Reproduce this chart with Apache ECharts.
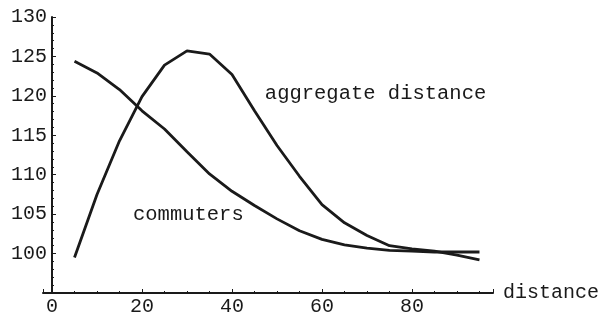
<!DOCTYPE html>
<html>
<head>
<meta charset="utf-8">
<script src="https://cdn.jsdelivr.net/npm/echarts@6/dist/echarts.min.js"></script>
<style>
  html, body { margin: 0; padding: 0; background: #fff; }
  #chart { width: 602px; height: 317px; }
</style>
</head>
<body>
<div id="chart"></div>
<script>
// distance values (x)
const distances = [5, 10, 15, 20, 25, 30, 35, 40, 45, 50, 55, 60, 65, 70, 75, 80, 85, 90, 95]
const aggregate = [99.5, 107.5, 114.3, 119.9, 123.9, 125.7, 125.3, 122.7, 118.1, 113.7, 109.8, 106.2, 103.9, 102.3, 101.0, 100.6, 100.3, 99.8, 99.2]
const commuters = [124.4, 122.9, 120.8, 118.1, 115.8, 112.9, 110.1, 107.9, 106.1, 104.4, 102.9, 101.8, 101.1, 100.7, 100.4, 100.3, 100.2, 100.2, 100.2]
const xTickLabels = [0, 20, 40, 60, 80]
const yTickLabels = [100, 105, 110, 115, 120, 125, 130]

const pairs = (ys) => distances.map((x, i) => [x, ys[i]])

const font = '"Liberation Mono", "DejaVu Sans Mono", monospace'
const ink = '#1a1a1a'

const chart = echarts.init(document.getElementById('chart'))

const lineSeries = (name, ys, labelAt) => ({
  name,
  type: 'line',
  data: pairs(ys),
  symbol: 'none',
  smooth: false,
  lineStyle: { color: ink, width: 2.8 },
  markPoint: {
    symbol: 'circle',
    symbolSize: 0,
    silent: true,
    data: [{ coord: labelAt, value: name }],
    label: {
      show: true,
      position: 'right',
      distance: 0,
      formatter: name,
      color: ink,
      fontFamily: font,
      fontSize: 20.5,
    },
  },
})

chart.setOption({
  animation: false,
  backgroundColor: '#fff',
  grid: {
    left: 43,
    top: 17,
    width: 450,
    height: 277,
  },
  xAxis: {
    type: 'value',
    min: -2,
    max: 98,
    splitNumber: 5,
    name: 'distance',
    nameLocation: 'end',
    nameGap: 10,
    nameTextStyle: { color: ink, fontFamily: font, fontSize: 20, verticalAlign: 'middle' },
    axisLine: { lineStyle: { color: ink, width: 2 } },
    axisTick: { inside: true, length: 4, lineStyle: { color: ink } },
    minorTick: { show: true, splitNumber: 4, length: 2, lineStyle: { color: ink } },
    splitLine: { show: false },
    axisLabel: {
      margin: 4,
      color: ink,
      fontFamily: font,
      fontSize: 20,
      formatter: (v) => (xTickLabels.includes(v) ? String(v) : ''),
    },
  },
  yAxis: {
    type: 'value',
    min: 95,
    max: 130,
    interval: 5,
    axisLine: { onZero: true, lineStyle: { color: ink, width: 2 } },
    axisTick: { inside: true, length: 4, lineStyle: { color: ink } },
    minorTick: { show: true, splitNumber: 5, length: 2, lineStyle: { color: ink } },
    splitLine: { show: false },
    axisLabel: {
      // labels sit at the grid edge, not at the shifted axis line
      margin: -4,
      color: ink,
      fontFamily: font,
      fontSize: 20,
      formatter: (v) => (yTickLabels.includes(v) ? String(v) : ''),
    },
  },
  series: [
    lineSeries('aggregate distance', aggregate, [47.3, 120.3]),
    lineSeries('commuters', commuters, [18, 104.9]),
  ],
})
</script>
</body>
</html>
